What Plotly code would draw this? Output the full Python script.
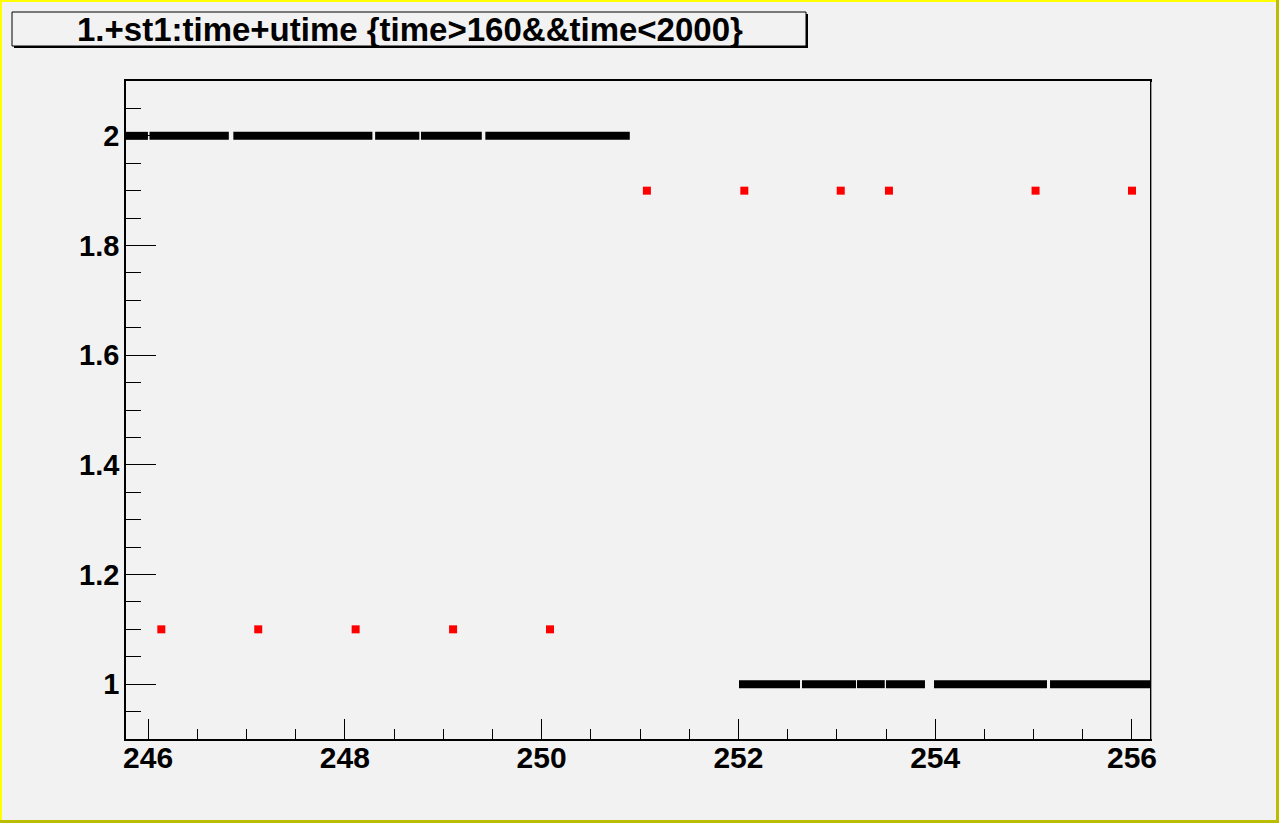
import plotly.graph_objects as go

# ---------------- data ----------------
# dense black runs (start, end of each continuous run of points)
upper_level = 2.0
upper_starts = [245.75, 246.015, 246.867, 248.308, 248.774, 249.428]
upper_ends   = [245.999, 246.821, 248.280, 248.757, 249.392, 250.896]
lower_level = 1.0
lower_starts = [252.006, 252.646, 253.205, 253.500, 253.988, 255.167]
lower_ends   = [252.626, 253.195, 253.487, 253.896, 255.136, 256.213]

# red points
red_low_x = [246.135, 247.12, 248.11, 249.10, 250.085]
red_low_y = [1.1, 1.1, 1.1, 1.1, 1.1]
red_high_x = [251.07, 252.06, 253.04, 253.53, 255.02, 256.00]
red_high_y = [1.9, 1.9, 1.9, 1.9, 1.9, 1.9]

title_text = "1.+st1:time+utime {time>160&&time<2000}"
x_range = [245.776, 256.183]
y_range = [0.9, 2.1]
x_tickvals = [246, 248, 250, 252, 254, 256]
y_tickvals = [1.0, 1.2, 1.4, 1.6, 1.8, 2.0]
y_ticktext = ["1", "1.2", "1.4", "1.6", "1.8", "2"]

# ---------------- layout geometry ----------------
W, H = 1279, 823
ML, MR, MT, MB = 126, 129, 81, 84
PW, PH = W - ML - MR, H - MT - MB


def px2x(px):
    return (px - ML) / PW


def px2y(py):
    return (H - MB - py) / PH


def runs(starts, ends, level):
    xs, ys = [], []
    for s, e in zip(starts, ends):
        xs += [s, e, None]
        ys += [level, level, None]
    return xs, ys


FONT = "Liberation Sans, Arial, Helvetica, sans-serif"
fig = go.Figure()

for st, en, lv in [(upper_starts, upper_ends, upper_level),
                   (lower_starts, lower_ends, lower_level)]:
    xs, ys = runs(st, en, lv)
    fig.add_trace(go.Scatter(x=xs, y=ys, mode="lines",
                             line=dict(color="black", width=8),
                             cliponaxis=False, hoverinfo="skip",
                             showlegend=False))

for xs, ys in [(red_low_x, red_low_y), (red_high_x, red_high_y)]:
    fig.add_trace(go.Scatter(x=xs, y=ys, mode="markers",
                             marker=dict(symbol="square", size=8, color="red",
                                         line=dict(width=0)),
                             showlegend=False))

shapes = []
# bright top/left canvas bevel
shapes.append(dict(type="line", xref="paper", yref="paper",
                   x0=px2x(1), x1=px2x(1), y0=px2y(0), y1=px2y(H),
                   line=dict(color="#ffff00", width=2)))
shapes.append(dict(type="line", xref="paper", yref="paper",
                   x0=px2x(0), x1=px2x(W), y0=px2y(1), y1=px2y(1),
                   line=dict(color="#ffff00", width=2)))
# dark bottom/right canvas bevel
shapes.append(dict(type="line", xref="paper", yref="paper",
                   x0=px2x(W - 1.5), x1=px2x(W - 1.5), y0=px2y(0), y1=px2y(H),
                   line=dict(color="#bcbc00", width=3)))
shapes.append(dict(type="line", xref="paper", yref="paper",
                   x0=px2x(0), x1=px2x(W), y0=px2y(H - 1.5), y1=px2y(H - 1.5),
                   line=dict(color="#bcbc00", width=3)))
# frame shadow (right)
shapes.append(dict(type="line", xref="paper", yref="paper",
                   x0=px2x(1151.5), x1=px2x(1151.5), y0=px2y(739), y1=px2y(82),
                   line=dict(color="#999999", width=1)))
# title box shadow
shapes.append(dict(type="rect", xref="paper", yref="paper",
                   x0=px2x(14), x1=px2x(808), y0=px2y(48), y1=px2y(14),
                   line=dict(width=0), fillcolor="black"))
# title box
shapes.append(dict(type="rect", xref="paper", yref="paper",
                   x0=px2x(12), x1=px2x(806), y0=px2y(46), y1=px2y(12),
                   line=dict(color="black", width=1), fillcolor="#f2f2f2"))

fig.update_layout(
    width=W, height=H,
    margin=dict(l=ML, r=MR, t=MT, b=MB, pad=0),
    paper_bgcolor="#f2f2f2", plot_bgcolor="#f2f2f2",
    shapes=shapes,
    annotations=[dict(text=title_text, xref="paper", yref="paper",
                      x=px2x(410), y=px2y(29), xanchor="center", yanchor="middle",
                      showarrow=False,
                      font=dict(family=FONT, size=33, color="black", weight="bold"))],
    xaxis=dict(range=x_range, tickvals=x_tickvals, showgrid=False, zeroline=False,
               ticks="inside", ticklen=20, tickwidth=1, tickcolor="black",
               showline=True, linecolor="black", linewidth=2, mirror=True,
               minor=dict(ticks="inside", ticklen=10, dtick=0.5, tick0=246,
                          tickcolor="black", tickwidth=1, showgrid=False),
               tickfont=dict(family=FONT, size=30, color="black", weight="bold"),
               ticklabelstandoff=-9),
    yaxis=dict(range=y_range, tickvals=y_tickvals, ticktext=y_ticktext,
               showgrid=False, zeroline=False,
               ticks="inside", ticklen=30, tickwidth=1, tickcolor="black",
               showline=True, linecolor="black", linewidth=1.5, mirror=True,
               minor=dict(ticks="inside", ticklen=15, dtick=0.05, tick0=0.9,
                          tickcolor="black", tickwidth=1, showgrid=False),
               tickfont=dict(family=FONT, size=29, color="black", weight="bold"),
               ticklabelstandoff=-1),
)

fig.write_html("out.html",
               config={"displayModeBar": False},
               post_script="document.body.style.margin='0';"
                           "document.body.style.padding='0';"
                           "document.body.style.overflow='hidden';")
